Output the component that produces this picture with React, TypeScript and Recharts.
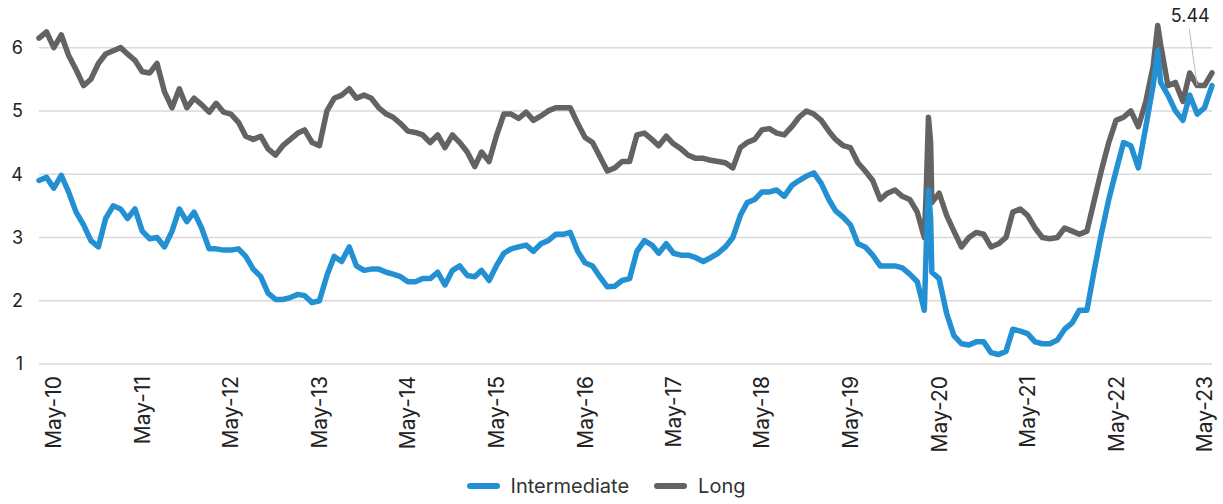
import { CartesianGrid, Legend, Line, LineChart, ReferenceDot, XAxis, YAxis } from "recharts";

const FONT = "Inter, 'Noto Sans', sans-serif";
const BLUE = "#2290d2";
const GREY = "#636363";

// monthly readings (first of month), plus a few extra days around the Mar-2020 and Oct-2022 spikes
const dates = [
  "2010-03-01", "2010-04-01", "2010-05-01", "2010-06-01", "2010-07-01", "2010-08-01", "2010-09-01", "2010-10-01", "2010-11-01", "2010-12-01",
  "2011-01-01", "2011-02-01", "2011-03-01", "2011-04-01", "2011-05-01", "2011-06-01", "2011-07-01", "2011-08-01", "2011-09-01", "2011-10-01", "2011-11-01", "2011-12-01",
  "2012-01-01", "2012-02-01", "2012-03-01", "2012-04-01", "2012-05-01", "2012-06-01", "2012-07-01", "2012-08-01", "2012-09-01", "2012-10-01", "2012-11-01", "2012-12-01",
  "2013-01-01", "2013-02-01", "2013-03-01", "2013-04-01", "2013-05-01", "2013-06-01", "2013-07-01", "2013-08-01", "2013-09-01", "2013-10-01", "2013-11-01", "2013-12-01",
  "2014-01-01", "2014-02-01", "2014-03-01", "2014-04-01", "2014-05-01", "2014-06-01", "2014-07-01", "2014-08-01", "2014-09-01", "2014-10-01", "2014-11-01", "2014-12-01",
  "2015-01-01", "2015-02-01", "2015-03-01", "2015-04-01", "2015-05-01", "2015-06-01", "2015-07-01", "2015-08-01", "2015-09-01", "2015-10-01", "2015-11-01", "2015-12-01",
  "2016-01-01", "2016-02-01", "2016-03-01", "2016-04-01", "2016-05-01", "2016-06-01", "2016-07-01", "2016-08-01", "2016-09-01", "2016-10-01", "2016-11-01", "2016-12-01",
  "2017-01-01", "2017-02-01", "2017-03-01", "2017-04-01", "2017-05-01", "2017-06-01", "2017-07-01", "2017-08-01", "2017-09-01", "2017-10-01", "2017-11-01", "2017-12-01",
  "2018-01-01", "2018-02-01", "2018-03-01", "2018-04-01", "2018-05-01", "2018-06-01", "2018-07-01", "2018-08-01", "2018-09-01", "2018-10-01", "2018-11-01", "2018-12-01",
  "2019-01-01", "2019-02-01", "2019-03-01", "2019-04-01", "2019-05-01", "2019-06-01", "2019-07-01", "2019-08-01", "2019-09-01", "2019-10-01", "2019-11-01", "2019-12-01",
  "2020-01-01", "2020-02-01", "2020-03-01", "2020-03-09", "2020-03-18", "2020-03-27", "2020-04-01", "2020-05-01", "2020-06-01", "2020-07-01", "2020-08-01", "2020-09-01", "2020-10-01", "2020-11-01", "2020-12-01",
  "2021-01-01", "2021-02-01", "2021-03-01", "2021-04-01", "2021-05-01", "2021-06-01", "2021-07-01", "2021-08-01", "2021-09-01", "2021-10-01", "2021-11-01", "2021-12-01",
  "2022-01-01", "2022-02-01", "2022-03-01", "2022-04-01", "2022-05-01", "2022-06-01", "2022-07-01", "2022-08-01", "2022-09-01", "2022-10-01", "2022-10-20", "2022-11-01", "2022-12-01",
  "2023-01-01", "2023-02-01", "2023-03-01", "2023-04-01", "2023-05-01", "2023-06-01",
];

const intermediate = [
  3.9, 3.95, 3.78, 3.98, 3.72, 3.4, 3.2, 2.95, 2.85, 3.3,
  3.5, 3.45, 3.3, 3.45, 3.1, 2.98, 3.0, 2.85, 3.1, 3.45, 3.25, 3.4,
  3.15, 2.82, 2.82, 2.8, 2.8, 2.82, 2.7, 2.5, 2.38, 2.12, 2.02, 2.02,
  2.05, 2.1, 2.08, 1.97, 2.0, 2.4, 2.7, 2.62, 2.85, 2.55, 2.48, 2.5,
  2.5, 2.45, 2.42, 2.38, 2.3, 2.3, 2.35, 2.35, 2.45, 2.25, 2.48, 2.55,
  2.4, 2.38, 2.48, 2.32, 2.55, 2.75, 2.82, 2.85, 2.88, 2.78, 2.9, 2.95,
  3.05, 3.05, 3.08, 2.78, 2.6, 2.55, 2.38, 2.22, 2.23, 2.32, 2.35, 2.78,
  2.95, 2.88, 2.75, 2.9, 2.75, 2.72, 2.72, 2.68, 2.62, 2.68, 2.75, 2.85,
  3.0, 3.35, 3.55, 3.6, 3.72, 3.72, 3.75, 3.65, 3.82, 3.9, 3.97, 4.02,
  3.85, 3.6, 3.42, 3.32, 3.2, 2.9, 2.85, 2.72, 2.55, 2.55, 2.55, 2.52,
  2.42, 2.3, 1.85, 2.85, 3.75, 3.3, 2.45, 2.35, 1.8, 1.45, 1.32, 1.3, 1.35, 1.35, 1.18,
  1.15, 1.2, 1.55, 1.52, 1.48, 1.35, 1.32, 1.32, 1.38, 1.55, 1.65, 1.85,
  1.85, 2.5, 3.05, 3.6, 4.05, 4.5, 4.45, 4.1, 4.75, 5.4, 5.95, 5.45, 5.25,
  5.0, 4.85, 5.25, 4.95, 5.05, 5.4,
];

const long = [
  6.15, 6.25, 6.0, 6.2, 5.88, 5.65, 5.4, 5.5, 5.75, 5.9,
  5.95, 6.0, 5.9, 5.8, 5.62, 5.6, 5.75, 5.3, 5.05, 5.35, 5.05, 5.2,
  5.1, 4.98, 5.12, 4.98, 4.95, 4.82, 4.6, 4.55, 4.6, 4.4, 4.3, 4.45,
  4.55, 4.65, 4.7, 4.5, 4.45, 5.0, 5.2, 5.25, 5.35, 5.2, 5.25, 5.2,
  5.05, 4.95, 4.9, 4.8, 4.68, 4.66, 4.62, 4.5, 4.62, 4.42, 4.62, 4.5,
  4.35, 4.12, 4.35, 4.2, 4.6, 4.95, 4.95, 4.88, 4.98, 4.85, 4.92, 5.0,
  5.05, 5.05, 5.05, 4.8, 4.58, 4.5, 4.28, 4.05, 4.1, 4.2, 4.2, 4.62,
  4.65, 4.55, 4.45, 4.6, 4.48, 4.4, 4.3, 4.25, 4.25, 4.22, 4.2, 4.18,
  4.1, 4.42, 4.5, 4.55, 4.7, 4.72, 4.65, 4.62, 4.75, 4.9, 5.0, 4.95,
  4.85, 4.68, 4.55, 4.45, 4.42, 4.18, 4.05, 3.9, 3.6, 3.7, 3.75, 3.65,
  3.6, 3.4, 3.0, 3.75, 4.9, 4.5, 3.55, 3.7, 3.35, 3.1, 2.85, 3.0, 3.08, 3.05, 2.85,
  2.9, 3.0, 3.4, 3.45, 3.35, 3.15, 3.0, 2.98, 3.0, 3.15, 3.1, 3.05,
  3.1, 3.6, 4.05, 4.5, 4.85, 4.9, 5.0, 4.75, 5.15, 5.7, 6.35, 6.05, 5.4,
  5.45, 5.15, 5.6, 5.4, 5.4, 5.6,
];

const tickDates = [
  "2010-05-01", "2011-05-01", "2012-05-01", "2013-05-01", "2014-05-01", "2015-05-01", "2016-05-01",
  "2017-05-01", "2018-05-01", "2019-05-01", "2020-05-01", "2021-05-01", "2022-05-01", "2023-05-01",
];
const tickLabels = [
  "May-10", "May-11", "May-12", "May-13", "May-14", "May-15", "May-16",
  "May-17", "May-18", "May-19", "May-20", "May-21", "May-22", "May-23",
];
const yTicks = [1, 2, 3, 4, 5, 6];

const calloutDate = "2023-04-01";
const calloutText = "5.44";

const series = [
  { key: "intermediate", name: "Intermediate", color: BLUE },
  { key: "long", name: "Long", color: GREY },
];

const data = dates.map((d, i) => ({
  t: Date.parse(d),
  intermediate: intermediate[i],
  long: long[i],
}));

const xTicks = tickDates.map((d) => Date.parse(d));
const calloutIndex = dates.indexOf(calloutDate);

function MonthTick({ x, y, payload }: any) {
  const label = tickLabels[xTicks.indexOf(payload.value)];
  return (
    <text
      x={x}
      y={y}
      transform={`rotate(-90, ${x}, ${y})`}
      textAnchor="end"
      dominantBaseline="central"
      fill="#222"
      fontSize={21}
      fontFamily={FONT}
    >
      {label}
    </text>
  );
}

function LegendContent() {
  return (
    <div
      style={{
        display: "flex",
        justifyContent: "center",
        alignItems: "center",
        gap: 25,
        fontFamily: FONT,
        fontSize: 20,
        color: "#333",
      }}
    >
      {series.map((s) => (
        <span key={s.key} style={{ display: "flex", alignItems: "center" }}>
          <span
            style={{
              display: "inline-block",
              width: 33,
              height: 6,
              borderRadius: 3,
              background: s.color,
              marginRight: 11,
            }}
          />
          {s.name}
        </span>
      ))}
    </div>
  );
}

function Callout({ cx, cy }: any) {
  return (
    <g>
      <line x1={cx - 8} y1={cy - 57} x2={cx} y2={cy} stroke="#bdbdbd" strokeWidth={1} />
      <text x={cx - 7} y={cy - 64} textAnchor="middle" fill="#222" fontSize={18} fontFamily={FONT}>
        {calloutText}
      </text>
    </g>
  );
}

export default function App() {
  return (
    <div style={{ position: "absolute", left: 0, top: 0, width: 1223, height: 504, background: "#fff" }}>
      <LineChart width={1223} height={504} data={data} margin={{ top: 16, right: 11, left: 0, bottom: 0 }}>
        <CartesianGrid vertical={false} horizontalValues={yTicks} stroke="#d9d9d9" strokeWidth={1.5} />
        <XAxis
          dataKey="t"
          type="number"
          scale="time"
          domain={[Date.parse("2010-03-01"), Date.parse("2023-06-01")]}
          ticks={xTicks}
          interval={0}
          tick={<MonthTick />}
          tickLine={false}
          axisLine={false}
          tickSize={0}
          tickMargin={12}
          height={110}
        />
        <YAxis
          domain={[1, 6.5]}
          ticks={yTicks}
          width={39}
          tickLine={false}
          axisLine={false}
          tickSize={0}
          tickMargin={16}
          tick={{ fill: "#222", fontSize: 18, fontFamily: FONT }}
        />
        <Legend verticalAlign="bottom" height={30} content={<LegendContent />} />
        <Line
          dataKey="long"
          name="Long"
          stroke={GREY}
          strokeWidth={5.5}
          strokeLinejoin="round"
          strokeLinecap="round"
          dot={false}
          isAnimationActive={false}
        />
        <Line
          dataKey="intermediate"
          name="Intermediate"
          stroke={BLUE}
          strokeWidth={5.5}
          strokeLinejoin="round"
          strokeLinecap="round"
          dot={false}
          isAnimationActive={false}
        />
        <ReferenceDot
          x={data[calloutIndex].t}
          y={data[calloutIndex].long}
          shape={<Callout />}
          ifOverflow="visible"
        />
      </LineChart>
    </div>
  );
}
